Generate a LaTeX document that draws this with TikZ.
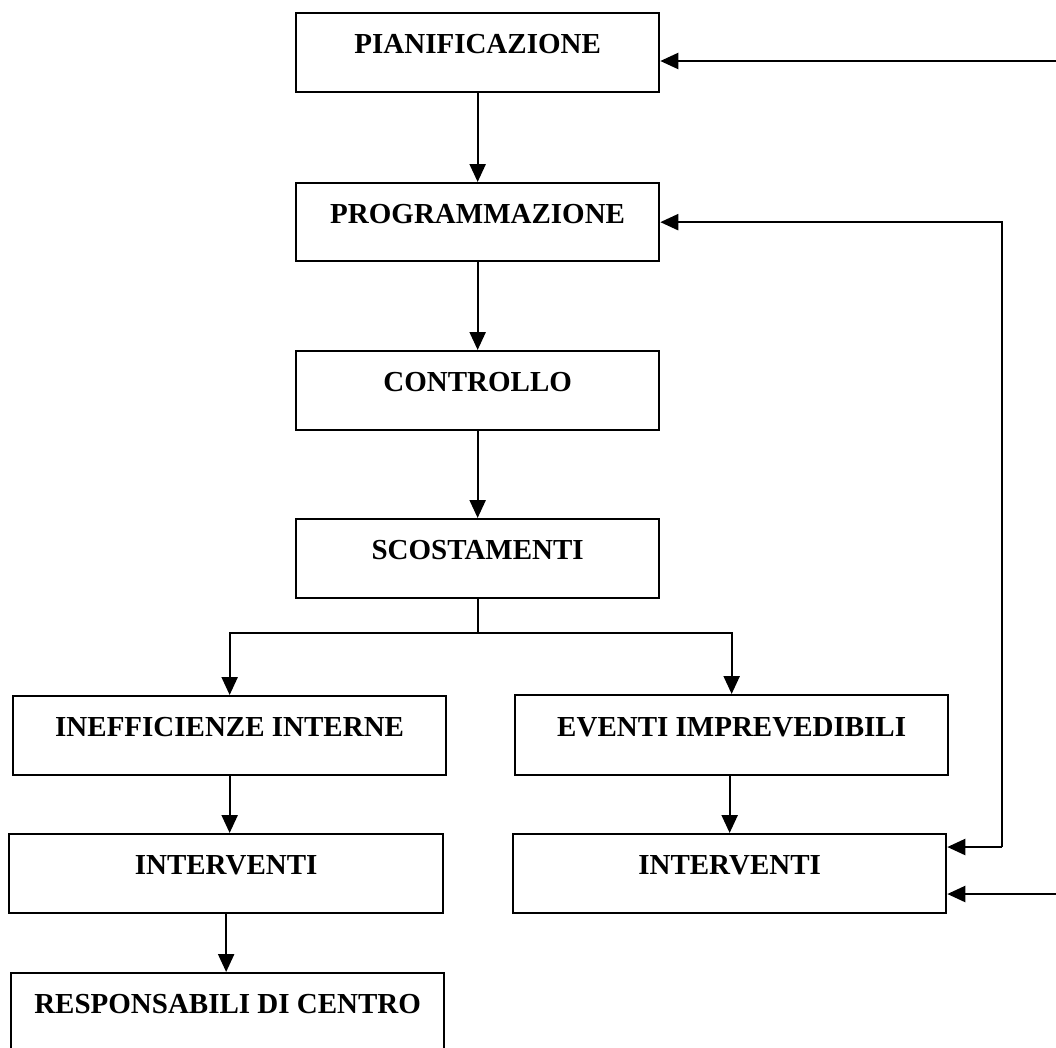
\documentclass[tikz,border=0pt]{standalone}
\usepackage{fontspec}
\setmainfont{Liberation Serif}
\usetikzlibrary{arrows.meta}
\tikzset{
  box/.style={draw, line width=2.3pt, inner sep=0pt, anchor=north west,
    text height=40pt, text depth=39pt, align=center,
    font=\fontsize{29}{34}\selectfont\bfseries},
  arr/.style={line width=2.3pt, -{Triangle[length=18pt,width=16pt]}},
  ln/.style={line width=2.3pt}
}
\begin{document}
\begin{tikzpicture}[x=1pt,y=-1pt]
\clip (0,0) rectangle (1056,1047);
\fill[white] (0,0) rectangle (1056,1047);
\node[box, minimum width=363pt] (pian) at (295,12) {PIANIFICAZIONE};
\node[box, minimum width=363pt, text depth=38pt] (prog) at (295,182) {PROGRAMMAZIONE};
\node[box, minimum width=363pt] (cont) at (295,350) {CONTROLLO};
\node[box, minimum width=363pt] (scost) at (295,518) {SCOSTAMENTI};
\node[box, minimum width=433pt] (ineff) at (12,695) {INEFFICIENZE INTERNE};
\node[box, minimum width=433pt, text height=41pt] (evt) at (514,694) {EVENTI IMPREVEDIBILI};
\node[box, minimum width=434pt] (intl) at (8,833) {INTERVENTI};
\node[box, minimum width=433pt] (intr) at (512,833) {INTERVENTI};
\node[box, minimum width=433pt, text depth=45pt] (resp) at (10,972) {RESPONSABILI DI CENTRO};

\draw[arr] (pian) -- (prog);
\draw[arr] (prog) -- (cont);
\draw[arr] (cont) -- (scost);
\coordinate (br) at (480,633);
\draw[ln] (scost.south) -- (scost.south |- br);
\draw[arr] (scost.south |- br) -| (ineff.north);
\draw[arr] (scost.south |- br) -| (evt.north);
\draw[arr] (ineff.south) -- (ineff.south |- intl.north);
\draw[arr] (intl.south) -- (intl.south |- resp.north);
\draw[arr] (intr.north |- evt.south) -- (intr.north);

\coordinate (fb) at (1002,847);
\draw[arr] (fb) -- (fb -| intr.east);
\draw[arr] (fb) |- (prog.east);
\coordinate (t1) at (1062,61);
\draw[arr] (t1) -- (t1 -| pian.east);
\coordinate (t2) at (1062,894);
\draw[arr] (t2) -- (t2 -| intr.east);
\end{tikzpicture}
\end{document}
